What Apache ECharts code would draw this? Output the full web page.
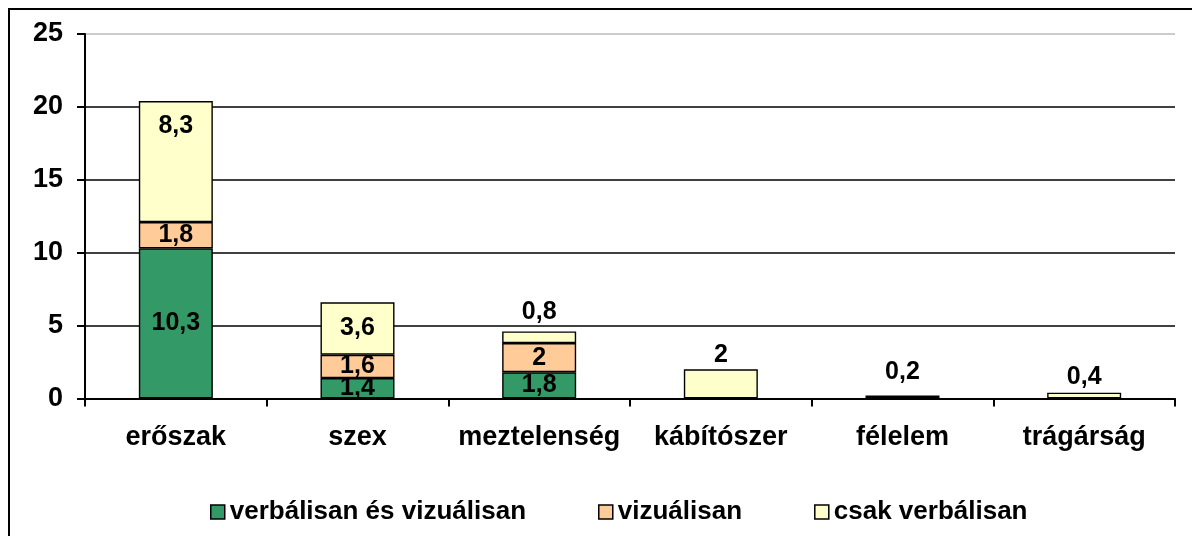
<!DOCTYPE html>
<html>
<head>
<meta charset="utf-8">
<script src="https://cdn.jsdelivr.net/npm/echarts@6/dist/echarts.min.js"></script>
<style>
  html, body { margin: 0; padding: 0; background: #fff; }
  #chart { width: 1192px; height: 536px; }
</style>
</head>
<body>
<div id="chart"></div>
<script>
// Categories and stacked values (per theme)
const categories = ['erőszak', 'szex', 'meztelenség', 'kábítószer', 'félelem', 'trágárság'];
const seriesNames = ['verbálisan és vizuálisan', 'vizuálisan', 'csak verbálisan'];
const verbalVisual = [10.3, 1.4, 1.8, null, null, null];
const visualOnly = [1.8, 1.6, 2, null, null, null];
const verbalOnly = [8.3, 3.6, 0.8, 2, 0.2, 0.4];
const yTicks = [0, 5, 10, 15, 20, 25];

// Label placement for the top segment of each stack
const verbalOnlyLabelPlacement = [
  { position: 'insideTop', distance: 13 },
  { position: 'inside' },
  { position: 'top', distance: 7 },
  { position: 'top', distance: 2 },
  { position: 'top', distance: 11 },
  { position: 'top', distance: 3 }
];

const FONT = "'Liberation Sans', Arial, sans-serif";
const fmt = v => String(v).replace('.', ',');

function makeSeries(name, values, color, placement) {
  return {
    name: name,
    type: 'bar',
    stack: 'total',
    barWidth: 74,
    itemStyle: { color: color, borderColor: '#000', borderWidth: 1.4 },
    label: {
      show: true,
      position: 'inside',
      color: '#000',
      fontFamily: FONT,
      fontWeight: 'bold',
      fontSize: 25,
      formatter: p => fmt(p.value)
    },
    data: values.map((v, i) => {
      const item = { value: v };
      if (placement && placement[i]) item.label = Object.assign({}, placement[i]);
      return item;
    })
  };
}

const chart = echarts.init(document.getElementById('chart'), null, { renderer: 'canvas' });

chart.setOption({
  animation: false,
  backgroundColor: '#fff',
  grid: { left: 85, right: 17, top: 34, bottom: 137.5, containLabel: false },
  legend: {
    left: 205,
    top: 494,
    itemWidth: 14,
    itemHeight: 14,
    itemGap: 72,
    icon: 'rect',
    textStyle: { fontFamily: FONT, fontWeight: 'bold', fontSize: 26, color: '#000' },
    data: seriesNames.map(n => ({ name: n, itemStyle: { borderColor: '#000', borderWidth: 1.5 } }))
  },
  xAxis: {
    type: 'category',
    data: categories,
    axisLine: { show: true, lineStyle: { color: '#000', width: 2 } },
    axisTick: { show: true, interval: 0, length: 8, alignWithLabel: false, lineStyle: { color: '#000', width: 2 } },
    axisLabel: { interval: 0, margin: 26, color: '#000', fontFamily: FONT, fontWeight: 'bold', fontSize: 27 },
    splitLine: { show: false }
  },
  yAxis: {
    type: 'value',
    min: yTicks[0],
    max: yTicks[yTicks.length - 1],
    interval: 5,
    axisLine: { show: true, lineStyle: { color: '#000', width: 2 } },
    axisTick: { show: true, length: 8, lineStyle: { color: '#000', width: 2 } },
    axisLabel: { margin: 22, color: '#000', fontFamily: FONT, fontWeight: 'bold', fontSize: 27, padding: [4, 0, 0, 0] },
    splitLine: {
      show: true,
      lineStyle: { color: ['#000', '#000', '#000', '#000', '#000', '#bbbbbb'], width: 1.5 }
    }
  },
  graphic: [
    { type: 'line', shape: { x1: 8, y1: 9, x2: 1192, y2: 9 }, style: { stroke: '#000', lineWidth: 2 } },
    { type: 'line', shape: { x1: 9, y1: 8, x2: 9, y2: 536 }, style: { stroke: '#000', lineWidth: 2 } }
  ],
  series: [
    makeSeries(seriesNames[0], verbalVisual, '#339966'),
    makeSeries(seriesNames[1], visualOnly, '#FFCC99'),
    makeSeries(seriesNames[2], verbalOnly, '#FFFFCC', verbalOnlyLabelPlacement)
  ]
});
</script>
</body>
</html>
